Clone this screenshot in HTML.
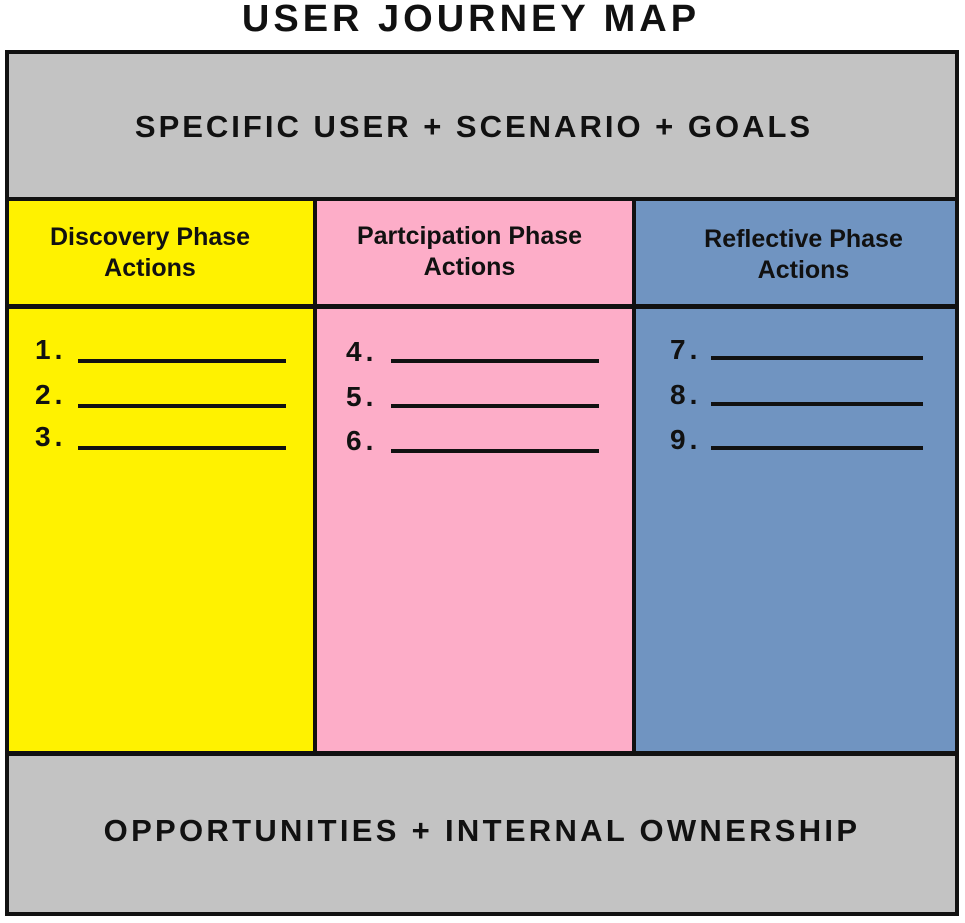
<!DOCTYPE html>
<html><head><meta charset="utf-8"><style>
body{margin:0;width:965px;height:923px;background:#fff;position:relative;overflow:hidden;font-family:"Liberation Sans",sans-serif}
div{position:absolute;box-sizing:border-box}
.t{font-weight:bold;color:#111;text-align:center;white-space:nowrap}
.h{font-size:25px;line-height:31px}
.n{font-size:28px;font-weight:bold;color:#111;letter-spacing:4px}
.ln{height:4px;background:#111}
</style></head><body>
<div class="t" style="left:0;width:942px;top:-3px;font-size:38px;letter-spacing:4px;line-height:44px">USER JOURNEY MAP</div>
<div style="left:5px;top:50px;width:954px;height:866px;border:4px solid #111;background:#111"></div>
<div style="left:9px;top:54px;width:946px;height:143px;background:#c3c3c3"></div>
<div class="t" style="left:9px;width:930px;top:108px;font-size:31px;letter-spacing:3px;line-height:38px">SPECIFIC USER + SCENARIO + GOALS</div>
<div style="left:9px;top:201px;width:304px;height:103px;background:#fff200"></div>
<div style="left:317px;top:201px;width:315px;height:103px;background:#fdadc8"></div>
<div style="left:636px;top:201px;width:319px;height:103px;background:#7094c1"></div>
<div class="t h" style="left:0px;width:300px;top:222px">Discovery Phase<br>Actions</div>
<div class="t h" style="left:317px;width:305px;top:221px">Partcipation Phase<br>Actions</div>
<div class="t h" style="left:636px;width:335px;top:224px">Reflective Phase<br>Actions</div>
<div style="left:9px;top:309px;width:304px;height:442px;background:#fff200"></div>
<div style="left:317px;top:309px;width:315px;height:442px;background:#fdadc8"></div>
<div style="left:636px;top:309px;width:319px;height:442px;background:#7094c1"></div>
<div style="left:9px;top:756px;width:946px;height:156px;background:#c3c3c3"></div>
<div class="t" style="left:9px;width:946px;top:812px;font-size:31px;letter-spacing:3.3px;line-height:38px;padding-right:0px">OPPORTUNITIES + INTERNAL OWNERSHIP</div>

<div class="n" style="left:35px;top:334px">1.</div>
<div class="ln" style="left:78px;top:359px;width:208px"></div>
<div class="n" style="left:35px;top:379px">2.</div>
<div class="ln" style="left:78px;top:404px;width:208px"></div>
<div class="n" style="left:35px;top:421px">3.</div>
<div class="ln" style="left:78px;top:446px;width:208px"></div>

<div class="n" style="left:346px;top:336px">4.</div>
<div class="ln" style="left:391px;top:359px;width:208px"></div>
<div class="n" style="left:346px;top:381px">5.</div>
<div class="ln" style="left:391px;top:404px;width:208px"></div>
<div class="n" style="left:346px;top:425px">6.</div>
<div class="ln" style="left:391px;top:449px;width:208px"></div>

<div class="n" style="left:670px;top:334px">7.</div>
<div class="ln" style="left:711px;top:356px;width:212px"></div>
<div class="n" style="left:670px;top:379px">8.</div>
<div class="ln" style="left:711px;top:402px;width:212px"></div>
<div class="n" style="left:670px;top:424px">9.</div>
<div class="ln" style="left:711px;top:446px;width:212px"></div>
</body></html>
